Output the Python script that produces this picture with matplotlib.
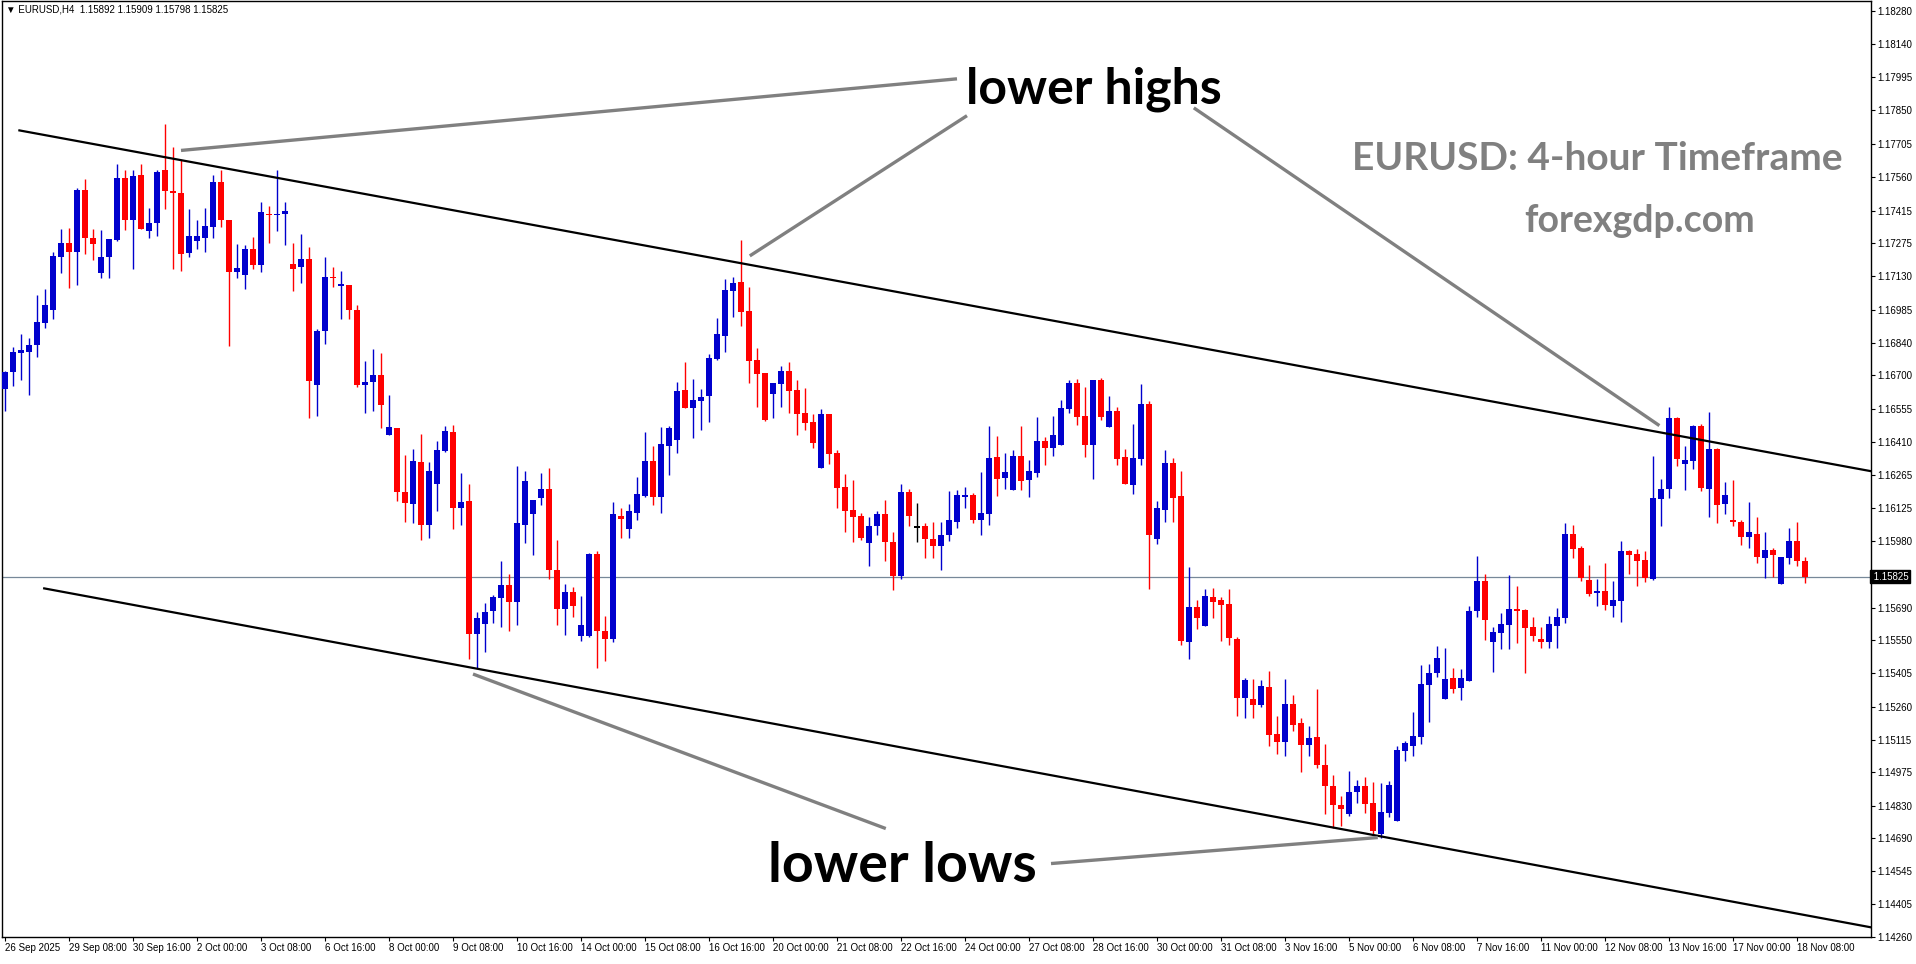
import matplotlib
matplotlib.use("Agg")
import matplotlib.pyplot as plt
import matplotlib.transforms as mtransforms

# EURUSD H4 candles, 26 Sep 2025 -> 18 Nov 2025
opens = [
    1.16640, 1.16713, 1.16796, 1.16802, 1.16831, 1.16926, 1.16984, 1.17213, 1.17272, 1.17235,
    1.17503, 1.17294, 1.17143, 1.17212, 1.17285, 1.17558, 1.17373, 1.17571, 1.17326, 1.17359,
    1.17593, 1.17502, 1.17493, 1.17229, 1.17281, 1.17294, 1.17342, 1.17541, 1.17376, 1.17147,
    1.17134, 1.17247, 1.17177, 1.17402, 1.17394, 1.17398, 1.17182, 1.17169, 1.17203, 1.16658,
    1.16891, 1.17125, 1.17088, 1.17091, 1.16982, 1.16658, 1.16671, 1.16701, 1.16441, 1.16471,
    1.16194, 1.16142, 1.16324, 1.16051, 1.16229, 1.16369, 1.16453, 1.16121, 1.16155, 1.15575,
    1.15618, 1.15676, 1.15732, 1.15787, 1.15714, 1.16051, 1.16099, 1.16168, 1.16207, 1.15855,
    1.15685, 1.15757, 1.15567, 1.15567, 1.15922, 1.15588, 1.15555, 1.16090, 1.16034, 1.16103,
    1.16177, 1.16329, 1.16170, 1.16394, 1.16420, 1.16636, 1.16558, 1.16588, 1.16610, 1.16770,
    1.16870, 1.17065, 1.17104, 1.16978, 1.16766, 1.16710, 1.16619, 1.16662, 1.16718, 1.16636,
    1.16536, 1.16497, 1.16298, 1.16532, 1.16363, 1.16216, 1.16116, 1.16090, 1.15969, 1.16047,
    1.16095, 1.15974, 1.15826, 1.16194, 1.16038, 1.16043, 1.15987, 1.15957, 1.16004, 1.16064,
    1.16173, 1.16181, 1.16073, 1.16095, 1.16346, 1.16255, 1.16203, 1.16350, 1.16246, 1.16277,
    1.16415, 1.16385, 1.16398, 1.16554, 1.16666, 1.16523, 1.16398, 1.16679, 1.16476, 1.16545,
    1.16346, 1.16225, 1.16337, 1.16575, 1.15987, 1.16116, 1.16320, 1.16177, 1.15540, 1.15692,
    1.15610, 1.15735, 1.15722, 1.15705, 1.15554, 1.15298, 1.15294, 1.15268, 1.15346, 1.15142,
    1.15108, 1.15272, 1.15190, 1.15094, 1.15129, 1.15008, 1.14917, 1.14835, 1.14796, 1.14891,
    1.14917, 1.14843, 1.14709, 1.14800, 1.14765, 1.15069, 1.15090, 1.15129, 1.15354, 1.15406,
    1.15294, 1.15385, 1.15341, 1.15372, 1.15675, 1.15805, 1.15540, 1.15579, 1.15614, 1.15683,
    1.15679, 1.15605, 1.15554, 1.15540, 1.15610, 1.15644, 1.16012, 1.15948, 1.15809, 1.15753,
    1.15761, 1.15696, 1.15718, 1.15935, 1.15922, 1.15896, 1.15813, 1.16164, 1.16207, 1.16515,
    1.16315, 1.16329, 1.16480, 1.16207, 1.16381, 1.16142, 1.16073, 1.16064, 1.15999, 1.16012,
    1.15904, 1.15939, 1.15792, 1.15904, 1.15978, 1.15892,
]
highs = [
    1.16720, 1.16821, 1.16878, 1.16860, 1.17047, 1.17073, 1.17235, 1.17333, 1.17337, 1.17514,
    1.17550, 1.17333, 1.17329, 1.17290, 1.17619, 1.17589, 1.17593, 1.17619, 1.17428, 1.17589,
    1.17792, 1.17692, 1.17636, 1.17420, 1.17376, 1.17424, 1.17571, 1.17589, 1.17376, 1.17268,
    1.17264, 1.17298, 1.17450, 1.17433, 1.17593, 1.17450, 1.17272, 1.17311, 1.17255, 1.16900,
    1.17212, 1.17169, 1.17151, 1.17091, 1.17004, 1.16762, 1.16814, 1.16796, 1.16614, 1.16471,
    1.16355, 1.16381, 1.16445, 1.16324, 1.16415, 1.16479, 1.16484, 1.16277, 1.16228, 1.15670,
    1.15709, 1.15744, 1.15895, 1.15835, 1.16307, 1.16285, 1.16160, 1.16277, 1.16298, 1.15982,
    1.15792, 1.15779, 1.15740, 1.15926, 1.15935, 1.15653, 1.16151, 1.16121, 1.16142, 1.16259,
    1.16454, 1.16394, 1.16476, 1.16480, 1.16671, 1.16757, 1.16684, 1.16640, 1.16792, 1.16948,
    1.17117, 1.17125, 1.17285, 1.17082, 1.16818, 1.16710, 1.16666, 1.16740, 1.16757, 1.16679,
    1.16645, 1.16532, 1.16554, 1.16532, 1.16376, 1.16272, 1.16246, 1.16103, 1.16082, 1.16112,
    1.16160, 1.16021, 1.16229, 1.16207, 1.16147, 1.16056, 1.16064, 1.16064, 1.16199, 1.16203,
    1.16216, 1.16190, 1.16281, 1.16480, 1.16437, 1.16363, 1.16376, 1.16480, 1.16333, 1.16519,
    1.16432, 1.16523, 1.16593, 1.16679, 1.16684, 1.16649, 1.16679, 1.16688, 1.16610, 1.16562,
    1.16381, 1.16489, 1.16662, 1.16588, 1.16155, 1.16376, 1.16341, 1.16285, 1.15865, 1.15722,
    1.15770, 1.15774, 1.15735, 1.15770, 1.15562, 1.15385, 1.15380, 1.15376, 1.15415, 1.15220,
    1.15380, 1.15311, 1.15211, 1.15177, 1.15337, 1.15099, 1.14965, 1.14874, 1.14982, 1.14943,
    1.14956, 1.14934, 1.14930, 1.14939, 1.15090, 1.15112, 1.15237, 1.15441, 1.15445, 1.15523,
    1.15515, 1.15428, 1.15424, 1.15696, 1.15913, 1.15835, 1.15605, 1.15666, 1.15831, 1.15783,
    1.15683, 1.15649, 1.15605, 1.15653, 1.15688, 1.16056, 1.16051, 1.15957, 1.15874, 1.15813,
    1.15883, 1.15805, 1.15978, 1.15939, 1.15943, 1.15935, 1.16350, 1.16251, 1.16562, 1.16519,
    1.16394, 1.16484, 1.16489, 1.16541, 1.16385, 1.16238, 1.16246, 1.16069, 1.16151, 1.16082,
    1.16021, 1.15948, 1.15909, 1.16038, 1.16064, 1.15909,
]
lows = [
    1.16545, 1.16655, 1.16681, 1.16616, 1.16780, 1.16906, 1.16943, 1.17143, 1.17078, 1.17091,
    1.17225, 1.17199, 1.17124, 1.17121, 1.17281, 1.17329, 1.17160, 1.17333, 1.17294, 1.17303,
    1.17420, 1.17160, 1.17151, 1.17212, 1.17247, 1.17234, 1.17294, 1.17342, 1.16826, 1.17121,
    1.17073, 1.17160, 1.17147, 1.17272, 1.17324, 1.17264, 1.17065, 1.17099, 1.16515, 1.16523,
    1.16835, 1.17082, 1.16943, 1.16943, 1.16649, 1.16536, 1.16545, 1.16471, 1.16441, 1.16155,
    1.16064, 1.16056, 1.15982, 1.15995, 1.16112, 1.16366, 1.16031, 1.16048, 1.15468, 1.15428,
    1.15497, 1.15623, 1.15607, 1.15588, 1.15614, 1.15969, 1.15917, 1.16134, 1.15813, 1.15614,
    1.15571, 1.15649, 1.15545, 1.15562, 1.15428, 1.15458, 1.15540, 1.15995, 1.15991, 1.16069,
    1.16173, 1.16134, 1.16103, 1.16268, 1.16363, 1.16558, 1.16428, 1.16463, 1.16497, 1.16766,
    1.16801, 1.16952, 1.16913, 1.16666, 1.16562, 1.16502, 1.16515, 1.16562, 1.16536, 1.16441,
    1.16463, 1.16385, 1.16298, 1.16315, 1.16125, 1.16017, 1.15974, 1.15982, 1.15870, 1.16008,
    1.15895, 1.15766, 1.15813, 1.16047, 1.15974, 1.15904, 1.15904, 1.15852, 1.15978, 1.16038,
    1.16125, 1.16056, 1.16004, 1.16051, 1.16177, 1.16207, 1.16203, 1.16203, 1.16173, 1.16259,
    1.16311, 1.16350, 1.16398, 1.16536, 1.16484, 1.16346, 1.16251, 1.16506, 1.16476, 1.16311,
    1.16229, 1.16186, 1.16311, 1.15770, 1.15965, 1.16064, 1.16064, 1.15528, 1.15467, 1.15597,
    1.15610, 1.15644, 1.15545, 1.15528, 1.15220, 1.15211, 1.15211, 1.15259, 1.15090, 1.15055,
    1.15047, 1.15155, 1.14978, 1.15047, 1.14995, 1.14793, 1.14735, 1.14744, 1.14787, 1.14843,
    1.14800, 1.14709, 1.14692, 1.14783, 1.14765, 1.15025, 1.15047, 1.15099, 1.15193, 1.15389,
    1.15294, 1.15320, 1.15289, 1.15372, 1.15649, 1.15549, 1.15411, 1.15510, 1.15510, 1.15536,
    1.15406, 1.15545, 1.15515, 1.15515, 1.15515, 1.15623, 1.15904, 1.15805, 1.15740, 1.15696,
    1.15679, 1.15649, 1.15627, 1.15835, 1.15783, 1.15800, 1.15809, 1.16043, 1.16168, 1.16307,
    1.16203, 1.16294, 1.16199, 1.16086, 1.16060, 1.16095, 1.16047, 1.15961, 1.15948, 1.15883,
    1.15818, 1.15822, 1.15792, 1.15878, 1.15870, 1.15798,
]
closes = [
    1.16714, 1.16799, 1.16810, 1.16831, 1.16932, 1.17004, 1.17217, 1.17272, 1.17235, 1.17503,
    1.17294, 1.17268, 1.17212, 1.17290, 1.17558, 1.17373, 1.17567, 1.17333, 1.17363, 1.17584,
    1.17498, 1.17490, 1.17225, 1.17303, 1.17303, 1.17346, 1.17541, 1.17372, 1.17147, 1.17164,
    1.17247, 1.17177, 1.17407, 1.17394, 1.17402, 1.17415, 1.17160, 1.17203, 1.16675, 1.16891,
    1.17125, 1.17120, 1.17094, 1.16982, 1.16658, 1.16671, 1.16701, 1.16571, 1.16476, 1.16194,
    1.16147, 1.16329, 1.16051, 1.16285, 1.16376, 1.16458, 1.16121, 1.16150, 1.15575, 1.15644,
    1.15673, 1.15735, 1.15787, 1.15714, 1.16060, 1.16242, 1.16160, 1.16207, 1.15853, 1.15685,
    1.15757, 1.15698, 1.15614, 1.15922, 1.15588, 1.15555, 1.16095, 1.16074, 1.16108, 1.16186,
    1.16329, 1.16173, 1.16402, 1.16471, 1.16632, 1.16558, 1.16593, 1.16606, 1.16775, 1.16878,
    1.17069, 1.17099, 1.16974, 1.16762, 1.16705, 1.16506, 1.16666, 1.16718, 1.16632, 1.16532,
    1.16493, 1.16406, 1.16532, 1.16359, 1.16212, 1.16108, 1.16086, 1.15991, 1.16047, 1.16095,
    1.15974, 1.15826, 1.16194, 1.16090, 1.16038, 1.15987, 1.15957, 1.16008, 1.16069, 1.16181,
    1.16181, 1.16073, 1.16103, 1.16341, 1.16251, 1.16281, 1.16350, 1.16242, 1.16285, 1.16415,
    1.16385, 1.16441, 1.16558, 1.16666, 1.16519, 1.16398, 1.16679, 1.16519, 1.16545, 1.16337,
    1.16229, 1.16341, 1.16575, 1.16004, 1.16121, 1.16320, 1.16168, 1.15545, 1.15692, 1.15644,
    1.15740, 1.15714, 1.15701, 1.15558, 1.15298, 1.15376, 1.15268, 1.15350, 1.15138, 1.15108,
    1.15272, 1.15181, 1.15094, 1.15125, 1.15008, 1.14917, 1.14835, 1.14818, 1.14891, 1.14917,
    1.14839, 1.14722, 1.14804, 1.14921, 1.15073, 1.15103, 1.15133, 1.15359, 1.15406, 1.15471,
    1.15380, 1.15337, 1.15385, 1.15675, 1.15805, 1.15636, 1.15584, 1.15618, 1.15683, 1.15675,
    1.15601, 1.15566, 1.15540, 1.15618, 1.15649, 1.16012, 1.15943, 1.15818, 1.15748, 1.15761,
    1.15701, 1.15722, 1.15935, 1.15917, 1.15891, 1.15818, 1.16168, 1.16207, 1.16515, 1.16337,
    1.16333, 1.16480, 1.16212, 1.16381, 1.16138, 1.16181, 1.16064, 1.15999, 1.16017, 1.15909,
    1.15939, 1.15917, 1.15909, 1.15978, 1.15891, 1.15825,
]

date_labels = [
    "26 Sep 2025", "29 Sep 08:00", "30 Sep 16:00", "2 Oct 00:00", "3 Oct 08:00",
    "6 Oct 16:00", "8 Oct 00:00", "9 Oct 08:00", "10 Oct 16:00", "14 Oct 00:00",
    "15 Oct 08:00", "16 Oct 16:00", "20 Oct 00:00", "21 Oct 08:00", "22 Oct 16:00",
    "24 Oct 00:00", "27 Oct 08:00", "28 Oct 16:00", "30 Oct 00:00", "31 Oct 08:00",
    "3 Nov 16:00", "5 Nov 00:00", "6 Nov 08:00", "7 Nov 16:00", "11 Nov 00:00",
    "12 Nov 08:00", "13 Nov 16:00", "17 Nov 00:00", "18 Nov 08:00",
]
price_ticks = [
    1.18280, 1.18140, 1.17995, 1.17850, 1.17705, 1.17560, 1.17415, 1.17275, 1.17130,
    1.16985, 1.16840, 1.16700, 1.16555, 1.16410, 1.16265, 1.16125, 1.15980, 1.15690,
    1.15550, 1.15405, 1.15260, 1.15115, 1.14975, 1.14830, 1.14690, 1.14545, 1.14405,
    1.14260,
]
last_price = 1.15825
header = "EURUSD,H4  1.15892 1.15909 1.15798 1.15825"

# trend channel and annotation pointers, (bar index, price)
upper_channel = [(1.8, 1.17763), (233.25, 1.16283)]
lower_channel = [(4.9, 1.15774), (233.25, 1.14302)]
pointers = [
    [(22.0, 1.17676), (119.0, 1.17987)],
    [(93.1, 1.17218), (120.25, 1.17827)],
    [(148.6, 1.17861), (206.8, 1.16481)],
    [(58.5, 1.15402), (110.1, 1.14731)],
    [(130.75, 1.14579), (171.6, 1.14692)],
]

W, H = 1916, 964
BULL = "#0000CD"
BEAR = "#FF0000"
SMALL = ["Liberation Sans", "DejaVu Sans"]
BIG = ["Lato", "DejaVu Sans"]


def fig_xy(px, py):
    return px / W, 1 - py / H


fig = plt.figure(figsize=(W / 100, H / 100), dpi=100)
fig.patch.set_facecolor("white")
x0, y_top = fig_xy(2, 1)
x1, y_bot = fig_xy(1871, 937)
ax = fig.add_axes([x0, y_bot, x1 - x0, y_top - y_bot])
ax.set_xlim(-0.375, 233.25)
ax.set_ylim(1.14272, 1.18325)

n = len(opens)
idx = list(range(n))
colors = []
for o, c in zip(opens, closes):
    if c > o:
        colors.append(BULL)
    elif c < o:
        colors.append(BEAR)
    else:
        colors.append("black")

ax.vlines(idx, lows, highs, colors=colors, linewidth=1.0, zorder=3)
bottoms = [min(o, c) for o, c in zip(opens, closes)]
heights = [max(abs(c - o), 0.00005) for o, c in zip(opens, closes)]
ax.bar(idx, heights, bottom=bottoms, width=0.68, color=colors, linewidth=0, zorder=4)

# channel
for line in (upper_channel, lower_channel):
    ax.plot([p[0] for p in line], [p[1] for p in line], color="black", lw=1.6, zorder=5)

# pointer lines
for line in pointers:
    ax.plot([p[0] for p in line], [p[1] for p in line], color="#808080", lw=2.4,
            solid_capstyle="butt", zorder=6, clip_on=False)

ax.axhline(last_price, color="#778899", lw=0.9, zorder=2)

# axes styling (MT4 look)
for s in ax.spines.values():
    s.set_color("black")
    s.set_linewidth(1.0)
ax.yaxis.tick_right()
ax.set_yticks(price_ticks)
ax.set_yticklabels([f"{p:.5f}" for p in price_ticks], fontfamily=SMALL, fontsize=7)
ax.tick_params(axis="y", direction="out", length=3, pad=1.5, width=0.8)

ax.set_xticks(idx[::8])
ax.set_xticklabels(date_labels, fontfamily=SMALL, fontsize=7, ha="left")
ax.tick_params(axis="x", direction="out", length=3, pad=1.5, width=0.8)

trans = mtransforms.blended_transform_factory(ax.transAxes, ax.transData)
ax.text(1.0, last_price, f" {last_price:.5f}", transform=trans, fontsize=7,
        fontfamily=SMALL, color="white", ha="left", va="center",
        bbox=dict(boxstyle="square,pad=0.15", fc="black", ec="black"), zorder=10,
        clip_on=False)

# header
hx, hy = fig_xy(6, 10)
fig.text(hx, hy, "\u25bc " + header, fontsize=7, fontfamily=SMALL, ha="left", va="center")

# annotations
tx, ty = fig_xy(1094, 103)
fig.text(tx, ty, "lower highs", fontsize=36, fontweight="bold", fontfamily=BIG,
         ha="center", va="baseline")
tx, ty = fig_xy(902, 882)
fig.text(tx, ty, "lower lows", fontsize=40, fontweight="bold", fontfamily=BIG,
         ha="center", va="baseline")
tx, ty = fig_xy(1597, 159)
fig.text(tx, ty, "EURUSD: 4-hour Timeframe", fontsize=28, fontweight="bold",
         fontfamily=BIG, color="#808080", ha="center", va="center")
tx, ty = fig_xy(1640, 221)
fig.text(tx, ty, "forexgdp.com", fontsize=27, fontweight="bold",
         fontfamily=BIG, color="#808080", ha="center", va="center")

fig.savefig("out.png", dpi=100, facecolor="white")
